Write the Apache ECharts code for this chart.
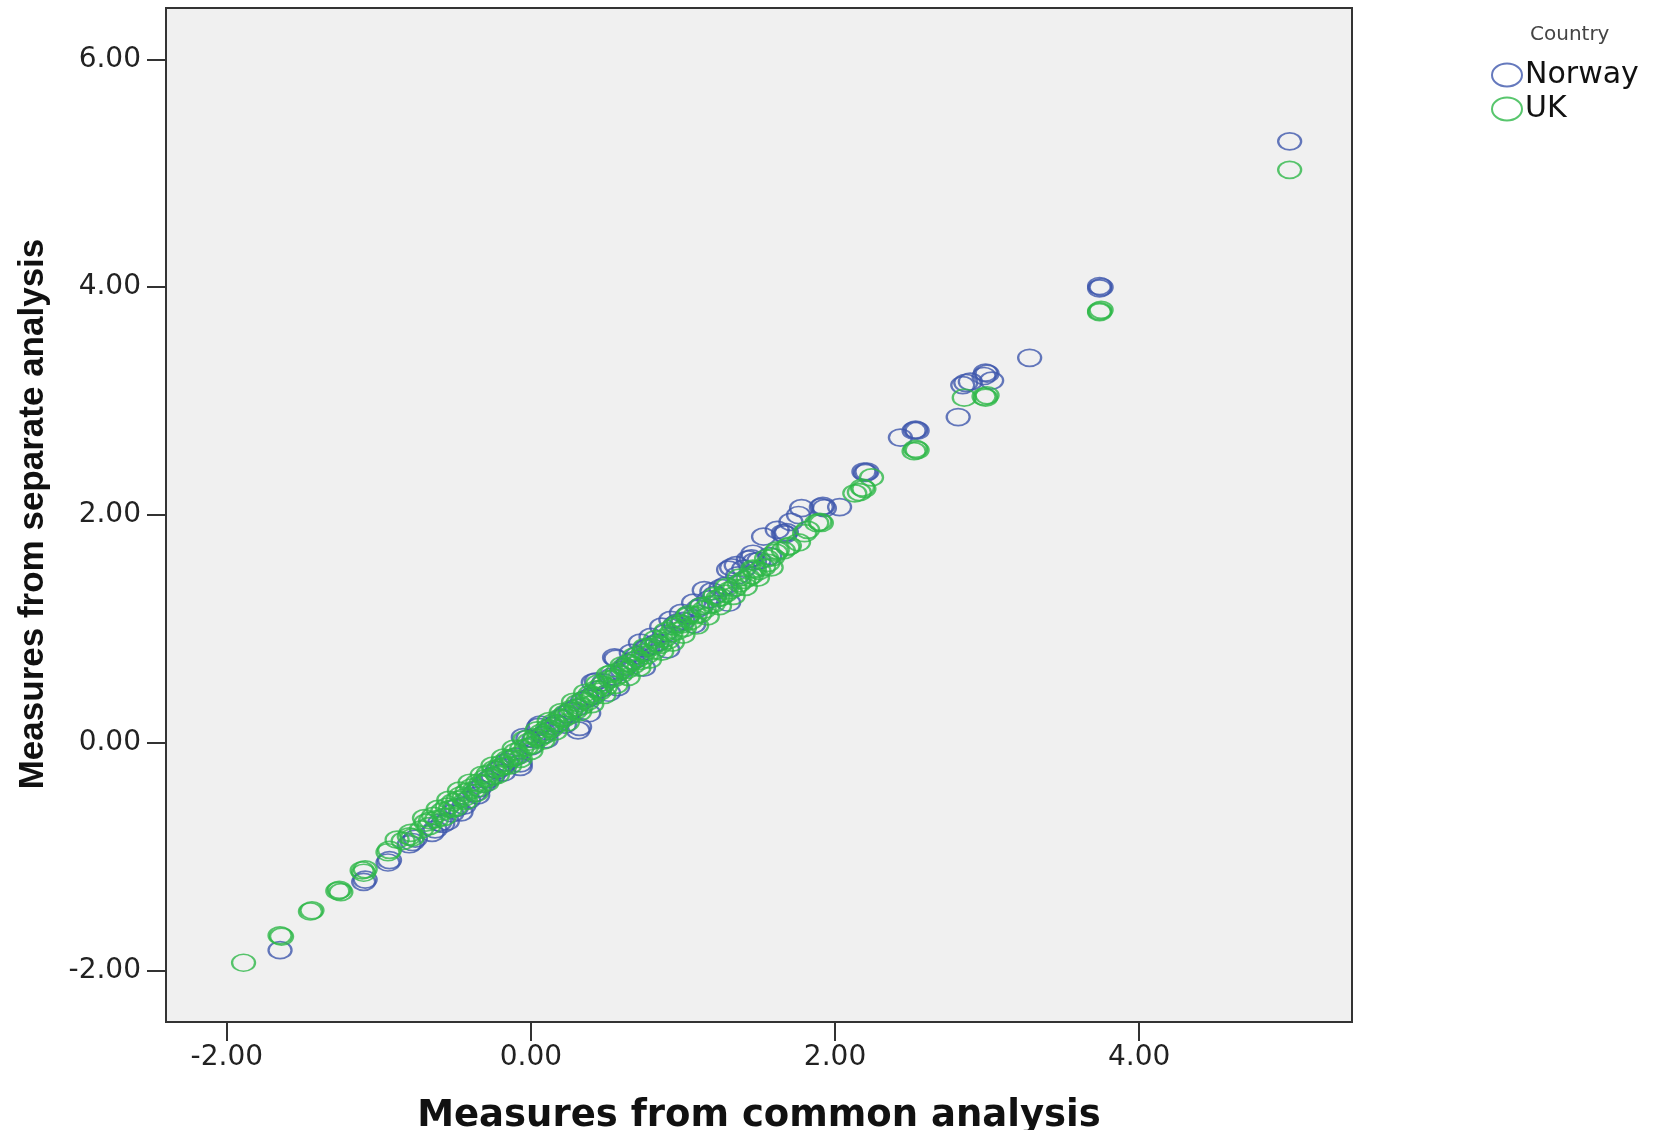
<!DOCTYPE html>
<html>
<head>
<meta charset="utf-8">
<script src="https://cdn.jsdelivr.net/npm/echarts@6/dist/echarts.min.js"></script>
<style>
html,body{margin:0;padding:0;background:#fff;}
#chart{width:1662px;height:1130px;}
</style>
</head>
<body>
<div id="chart"></div>
<script>
// ---- data ----
var seriesNames = ['Norway', 'UK'];
var legendTitle = 'Country';
var xTitle = 'Measures from common analysis';
var yTitle = 'Measures from separate analysis';
var xTicks = [-2, 0, 2, 4];
var yTicks = [-2, 0, 2, 4, 6];

var norway = [
[-1.65,-1.82],
[-1.10,-1.22],[-1.09,-1.20],
[-0.94,-1.05],[-0.93,-1.03],
[-0.80,-0.89],[-0.78,-0.87],[-0.76,-0.84],
[-0.65,-0.79],[-0.63,-0.76],[-0.60,-0.70],
[-0.55,-0.69],[-0.52,-0.62],[-0.49,-0.57],
[-0.46,-0.61],[-0.44,-0.55],[-0.41,-0.50],
[-0.37,-0.44],[-0.34,-0.40],[-0.31,-0.36],
[-0.28,-0.32],[-0.25,-0.29],[-0.22,-0.24],
[-0.19,-0.21],[-0.16,-0.17],[-0.13,-0.14],
[-0.10,-0.12],[-0.07,-0.18],[-0.07,-0.21],
[-0.05,0.05],[-0.02,0.04],[0.00,-0.03],
[0.02,0.03],[0.05,0.14],[0.06,0.16],
[0.08,0.07],[0.11,0.10],[0.14,0.15],
[0.17,0.17],[0.20,0.22],[0.23,0.25],
[0.26,0.28],[0.30,0.31],[0.31,0.11],
[0.32,0.14],[0.34,0.37],[0.37,0.39],
[0.38,0.26],[0.40,0.41],[0.41,0.53],
[0.43,0.54],[0.45,0.47],[0.48,0.53],
[0.51,0.44],[0.53,0.58],[0.55,0.75],
[0.56,0.74],[0.57,0.49],[0.60,0.64],
[0.62,0.67],[0.64,0.70],[0.67,0.72],
[0.70,0.77],[0.72,0.88],[0.74,0.66],
[0.75,0.83],[0.77,0.84],[0.80,0.86],
[0.83,0.88],[0.86,1.02],[0.88,0.96],
[0.90,0.82],[0.92,1.08],[0.95,1.04],
[0.97,1.06],[1.00,1.07],[1.03,1.12],
[1.07,1.04],[1.07,1.23],[1.10,1.18],
[1.12,1.20],[1.14,1.34],[1.17,1.26],
[1.21,1.30],[1.25,1.36],[1.28,1.38],
[1.30,1.23],[1.30,1.52],[1.32,1.54],
[1.36,1.47],[1.40,1.53],[1.43,1.61],
[1.45,1.62],[1.47,1.59],[1.50,1.60],
[1.53,1.81],[1.57,1.64],[1.62,1.87],
[1.66,1.84],[1.67,1.83],[1.68,1.85],
[1.71,1.94],[1.76,2.00],[1.78,2.06],
[1.91,2.07],[1.92,2.08],[1.93,2.06],
[2.03,2.07],
[2.19,2.38],[2.20,2.37],[2.21,2.38],
[2.43,2.68],
[2.53,2.75],[2.54,2.74],[2.52,2.74],
[2.81,2.86],
[2.84,3.14],[2.86,3.16],[2.89,3.17],
[2.99,3.25],[3.00,3.24],[2.98,3.22],[3.03,3.18],
[3.28,3.38],
[3.74,4.01],[3.75,4.00],[3.74,3.99],
[4.99,5.28],
[-0.58,-0.71],[-0.35,-0.46],[-0.18,-0.26],[0.10,0.03],[0.22,0.16],
[0.66,0.79],[0.79,0.93],[0.99,1.14],[1.19,1.33],[1.35,1.56],[1.46,1.66]
];

var uk = [
[-1.89,-1.93],
[-1.65,-1.69],[-1.64,-1.70],
[-1.45,-1.48],[-1.44,-1.47],
[-1.27,-1.30],[-1.26,-1.29],[-1.25,-1.31],
[-1.11,-1.12],[-1.10,-1.14],[-1.09,-1.11],
[-0.94,-0.96],[-0.93,-0.94],
[-0.88,-0.85],[-0.84,-0.86],
[-0.80,-0.82],[-0.79,-0.79],[-0.78,-0.83],
[-0.72,-0.76],[-0.69,-0.70],
[-0.66,-0.68],[-0.64,-0.64],[-0.62,-0.67],
[-0.58,-0.60],[-0.55,-0.56],[-0.53,-0.58],[-0.51,-0.52],
[-0.48,-0.50],[-0.46,-0.46],[-0.44,-0.48],[-0.42,-0.43],
[-0.39,-0.39],[-0.37,-0.41],[-0.35,-0.35],[-0.33,-0.36],
[-0.30,-0.31],[-0.28,-0.27],[-0.26,-0.30],[-0.24,-0.23],
[-0.21,-0.22],[-0.19,-0.18],[-0.17,-0.20],[-0.15,-0.14],
[-0.12,-0.13],[-0.10,-0.08],[-0.08,-0.11],[-0.06,-0.05],
[-0.03,-0.04],[-0.01,0.01],[0.01,-0.02],[0.03,0.05],
[0.05,0.04],[0.07,0.09],[0.09,0.07],[0.11,0.13],
[0.13,0.12],[0.15,0.18],[0.17,0.16],[0.19,0.22],
[0.21,0.21],[0.23,0.26],[0.25,0.24],[0.27,0.30],
[0.29,0.28],[0.31,0.35],[0.33,0.32],[0.35,0.38],
[0.37,0.36],[0.39,0.43],[0.41,0.41],[0.43,0.47],
[0.45,0.45],[0.47,0.51],[0.49,0.49],[0.52,0.56],
[0.53,0.61],[0.55,0.57],[0.57,0.62],[0.59,0.60],
[0.61,0.66],[0.63,0.64],[0.65,0.70],[0.67,0.68],
[0.70,0.74],[0.72,0.72],[0.74,0.79],[0.76,0.77],
[0.79,0.84],[0.81,0.81],[0.83,0.87],[0.85,0.86],
[0.88,0.92],[0.90,0.90],[0.92,0.96],[0.94,1.02],
[0.96,0.98],[0.99,1.04],[1.01,1.01],[1.03,1.11],
[1.05,1.07],[1.08,1.12],[1.11,1.13],[1.14,1.17],
[1.17,1.21],[1.20,1.22],[1.23,1.27],[1.25,1.28],
[1.28,1.31],[1.31,1.34],[1.34,1.36],[1.37,1.40],
[1.40,1.43],[1.43,1.45],[1.45,1.47],[1.47,1.52],
[1.50,1.51],[1.53,1.54],[1.56,1.58],[1.59,1.63],
[1.61,1.67],[1.62,1.69],[1.66,1.69],[1.69,1.72],
[1.70,1.73],[1.76,1.76],[1.80,1.84],[1.82,1.87],
[1.88,1.93],[1.90,1.94],[1.91,1.93],
[2.13,2.19],[2.16,2.20],[2.18,2.24],[2.19,2.23],[2.24,2.33],
[2.52,2.56],[2.53,2.58],[2.54,2.57],
[2.85,3.03],[2.98,3.04],[3.00,3.05],[2.99,3.03],
[3.74,3.78],[3.75,3.80],[3.74,3.79],
[4.99,5.03],
[-0.70,-0.66],[-0.67,-0.73],[-0.61,-0.58],[-0.57,-0.65],[-0.54,-0.50],
[-0.50,-0.57],[-0.47,-0.42],[-0.43,-0.51],[-0.40,-0.35],[-0.36,-0.44],
[-0.32,-0.28],[-0.29,-0.35],[-0.25,-0.20],[-0.22,-0.28],[-0.18,-0.13],
[-0.14,-0.20],[-0.11,-0.05],[-0.07,-0.14],[-0.04,0.03],[0.00,-0.07],
[0.04,0.11],[0.08,0.02],[0.12,0.19],[0.16,0.10],[0.20,0.27],
[0.24,0.18],[0.28,0.36],[0.32,0.27],[0.36,0.44],[0.40,0.34],
[0.44,0.52],[0.48,0.42],[0.51,0.60],[0.56,0.51],[0.60,0.68],
[0.64,0.58],[0.68,0.76],[0.71,0.66],[0.75,0.84],[0.78,0.73],
[0.82,0.91],[0.86,0.80],[0.89,0.98],[0.93,0.88],[0.97,1.05],
[1.00,0.95],[1.04,1.13],[1.09,1.03],[1.12,1.20],[1.16,1.11],
[1.21,1.29],[1.24,1.20],[1.29,1.37],[1.33,1.29],[1.37,1.45],
[1.41,1.37],[1.46,1.53],[1.49,1.45],[1.55,1.62],[1.58,1.54]
];

// ---- styling ----
var colors = ['#3E58AC', '#2EB848'];
var ellipse = 'path://M0,8.5a11.5,8.5 0 1,0 23,0a11.5,8.5 0 1,0 -23,0';
var legendEllipse = 'path://M0,11.5a15,11.5 0 1,0 30,0a15,11.5 0 1,0 -30,0';

var chart = echarts.init(document.getElementById('chart'), null, {renderer: 'canvas'});

function mkSeries(name, data, color) {
  return {
    name: name,
    type: 'scatter',
    data: data,
    symbol: ellipse,
    symbolSize: [23, 17],
    itemStyle: {color: 'rgba(0,0,0,0)', borderColor: color, borderWidth: 2},
    emphasis: {disabled: true},
    z: 3
  };
}

var option = {
  animation: false,
  backgroundColor: '#ffffff',
  grid: {
    left: 166, top: 8, right: 310, bottom: 108,
    show: true, backgroundColor: '#F0F0F0', borderColor: '#333333', borderWidth: 2
  },
  xAxis: {
    type: 'value', min: -2.4, max: 5.4,
    axisLine: {show: false, onZero: false},
    splitLine: {show: false},
    axisTick: {show: true, length: 19, inside: false, customValues: xTicks,
               lineStyle: {color: '#333333', width: 2}},
    axisLabel: {customValues: xTicks, margin: 22, color: '#222222',
                fontFamily: 'DejaVu Sans', fontSize: 28,
                formatter: function (v) { return v.toFixed(2); }}
  },
  yAxis: {
    type: 'value', min: -2.45, max: 6.45,
    axisLine: {show: false, onZero: false},
    splitLine: {show: false},
    axisTick: {show: true, length: 19, inside: false, customValues: yTicks,
               lineStyle: {color: '#333333', width: 2}},
    axisLabel: {customValues: yTicks, margin: 25, color: '#222222',
                fontFamily: 'DejaVu Sans', fontSize: 28, padding: [6, 0, 0, 0],
                formatter: function (v) { return v.toFixed(2); }}
  },
  legend: {
    orient: 'vertical',
    left: 1491, top: 60,
    padding: 0,
    itemWidth: 30, itemHeight: 23, itemGap: 4,
    selectedMode: false,
    textStyle: {fontFamily: 'DejaVu Sans', fontSize: 30, color: '#111111', padding: [0,0,0,-2]},
    data: [
      {name: seriesNames[0], icon: legendEllipse,
       itemStyle: {color: 'rgba(0,0,0,0)', borderColor: colors[0], borderWidth: 2}},
      {name: seriesNames[1], icon: legendEllipse,
       itemStyle: {color: 'rgba(0,0,0,0)', borderColor: colors[1], borderWidth: 2}}
    ]
  },
  graphic: [
    {type: 'text', left: 1530, top: 25,
     style: {text: legendTitle, fontFamily: 'DejaVu Sans', fontSize: 20, fill: '#444444'}},
    {type: 'text', x: 759, y: 1116,
     style: {text: xTitle, fontFamily: 'DejaVu Sans', fontWeight: 'bold', fontSize: 37,
             fill: '#111111', align: 'center', verticalAlign: 'middle'}},
    {type: 'text', x: 33, y: 514, rotation: Math.PI / 2,
     style: {text: yTitle, fontFamily: 'Liberation Sans', fontWeight: 'bold', fontSize: 35,
             fill: '#111111', align: 'center', verticalAlign: 'middle'}}
  ],
  series: [
    mkSeries(seriesNames[0], norway, colors[0]),
    mkSeries(seriesNames[1], uk, colors[1])
  ]
};
chart.setOption(option);
</script>
</body>
</html>
